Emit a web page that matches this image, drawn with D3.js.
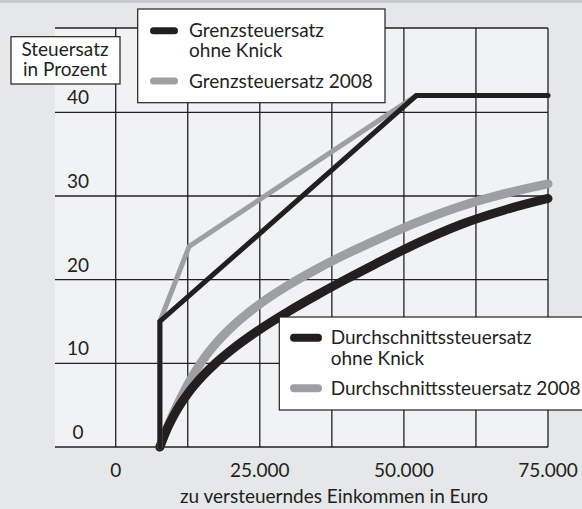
<!DOCTYPE html>
<html>
<head>
<meta charset="utf-8">
<script src="https://cdn.jsdelivr.net/npm/d3@7"></script>
<style>
  html, body { margin: 0; padding: 0; background: #e6e7e8; }
  svg { display: block; }
  text { font-family: Lato, "Noto Sans", sans-serif; fill: #231f20; font-size: 19px; }
</style>
</head>
<body>
<svg id="chart"></svg>
<script>
// income in euro, rates in percent
const avgIncomes = [7664, 8000, 8500, 9000, 10000, 11000, 12739, 15000, 17500, 20000, 25000, 30000, 35000, 40000, 45000, 52152, 60000, 67500, 75000];
const avg2008 = [0, 0.64, 1.55, 2.40, 3.99, 5.44, 7.76, 10.28, 12.47, 14.25, 17.09, 19.36, 21.31, 23.06, 24.67, 26.82, 28.81, 30.28, 31.45];
const avgNoKink = [0, 0.63, 1.50, 2.29, 3.67, 4.86, 6.59, 8.42, 10.11, 11.56, 14.05, 16.21, 18.19, 20.06, 21.85, 24.31, 26.63, 28.33, 29.70];

const marg2008Incomes = [7664, 7664, 12739, 52152, 75000];
const marg2008 = [0, 15, 23.97, 42, 42];
const margNoKinkIncomes = [7664, 7664, 52152, 75000];
const margNoKink = [0, 15, 42, 42];

const xTicks = [0, 25000, 50000, 75000];
const xGrid = [0, 12500, 25000, 37500, 50000, 62500, 75000];
const yTicks = [0, 10, 20, 30, 40];

const width = 582, height = 509;
const black = '#231f20', grey = '#9d9fa2';

const svg = d3.select('#chart').attr('width', width).attr('height', height);

svg.append('rect').attr('width', width).attr('height', height).attr('fill', '#e6e7e8');
svg.append('rect').attr('width', width).attr('height', 3).attr('fill', '#c9cacc');

const x = d3.scaleLinear().domain([0, 75000]).range([115.7, 548]);
const y = d3.scaleLinear().domain([0, 40]).range([447, 112.3]);
const plotLeft = 55, plotTop = 28;

// plot background
svg.append('rect')
  .attr('x', plotLeft).attr('y', plotTop)
  .attr('width', x(75000) - plotLeft).attr('height', y(0) - plotTop)
  .attr('fill', '#f1f2f4');

// grid
const grid = svg.append('g').attr('stroke', black).attr('stroke-width', 1.3);
grid.selectAll('line.v').data(xGrid).join('line')
  .attr('x1', d => x(d)).attr('x2', d => x(d))
  .attr('y1', plotTop).attr('y2', y(0));
grid.selectAll('line.h').data(yTicks.concat([y.invert(plotTop)])).join('line')
  .attr('x1', plotLeft).attr('x2', x(75000))
  .attr('y1', d => y(d)).attr('y2', d => y(d))
  .attr('stroke-width', d => d === 0 ? 1.6 : 1.3);

// y tick labels, sitting above the grid lines
svg.append('g').selectAll('text').data(yTicks).join('text')
  .attr('x', 78).attr('y', d => y(d) - 8)
  .attr('text-anchor', 'middle')
  .text(d => d);

// x tick labels
svg.append('g').selectAll('text').data(xTicks).join('text')
  .attr('x', d => x(d)).attr('y', 477)
  .attr('text-anchor', 'middle')
  .text(d => d === 0 ? '0' : d3.format(',')(d).replace(/,/g, '.'));

svg.append('text')
  .attr('x', 334).attr('y', 503)
  .attr('text-anchor', 'middle')
  .text('zu versteuerndes Einkommen in Euro');

// lines
const line = d3.line().x(d => x(d[0])).y(d => y(d[1]));
const smooth = d3.line().x(d => x(d[0])).y(d => y(d[1])).curve(d3.curveMonotoneX);

svg.append('path')
  .datum(avgIncomes.map((v, i) => [v, avg2008[i]]))
  .attr('d', smooth).attr('fill', 'none')
  .attr('stroke', grey).attr('stroke-width', 9).attr('stroke-linecap', 'round');
svg.append('path')
  .datum(avgIncomes.map((v, i) => [v, avgNoKink[i]]))
  .attr('d', smooth).attr('fill', 'none')
  .attr('stroke', black).attr('stroke-width', 9).attr('stroke-linecap', 'round');

svg.append('path')
  .datum(marg2008Incomes.map((v, i) => [v, marg2008[i]]))
  .attr('d', line).attr('fill', 'none')
  .attr('stroke', grey).attr('stroke-width', 5).attr('stroke-linecap', 'round');
svg.append('path')
  .datum(margNoKinkIncomes.map((v, i) => [v, margNoKink[i]]))
  .attr('d', line).attr('fill', 'none')
  .attr('stroke', black).attr('stroke-width', 5).attr('stroke-linecap', 'round');

// y axis title box
svg.append('rect')
  .attr('x', 11).attr('y', 36.7).attr('width', 109).attr('height', 47.3)
  .attr('fill', '#fff').attr('stroke', black).attr('stroke-width', 1.2);
svg.append('text').attr('x', 65).attr('y', 56).attr('text-anchor', 'middle')
  .text('Steuersatz');
svg.append('text').attr('x', 65).attr('y', 76).attr('text-anchor', 'middle')
  .text('in Prozent');

// legend: marginal rates
const leg1 = svg.append('g');
leg1.append('rect')
  .attr('x', 137.7).attr('y', 9).attr('width', 247.3).attr('height', 93.7)
  .attr('fill', '#fff').attr('stroke', black).attr('stroke-width', 1.2);
[[black, 30.7, ['Grenzsteuersatz', 'ohne Knick']], [grey, 81, ['Grenzsteuersatz 2008']]].forEach(([c, ly, lines]) => {
  leg1.append('line').attr('x1', 153.5).attr('x2', 174.5).attr('y1', ly).attr('y2', ly)
    .attr('stroke', c).attr('stroke-width', 7).attr('stroke-linecap', 'round');
  lines.forEach((t, i) => leg1.append('text')
    .attr('x', 189).attr('y', ly + 6.5 + i * 20).text(t));
});

// legend: average rates
const leg2 = svg.append('g');
leg2.append('rect')
  .attr('x', 279.3).attr('y', 317).attr('width', 320).attr('height', 93)
  .attr('fill', '#fff').attr('stroke', black).attr('stroke-width', 1.2);
[[black, 337.7, ['Durchschnittssteuersatz', 'ohne Knick']], [grey, 388.3, ['Durchschnittssteuersatz 2008']]].forEach(([c, ly, lines]) => {
  leg2.append('line').attr('x1', 294).attr('x2', 318).attr('y1', ly).attr('y2', ly)
    .attr('stroke', c).attr('stroke-width', 8).attr('stroke-linecap', 'round');
  lines.forEach((t, i) => leg2.append('text')
    .attr('x', 330.7).attr('y', ly + 6.3 + i * 21).text(t));
});
</script>
</body>
</html>
